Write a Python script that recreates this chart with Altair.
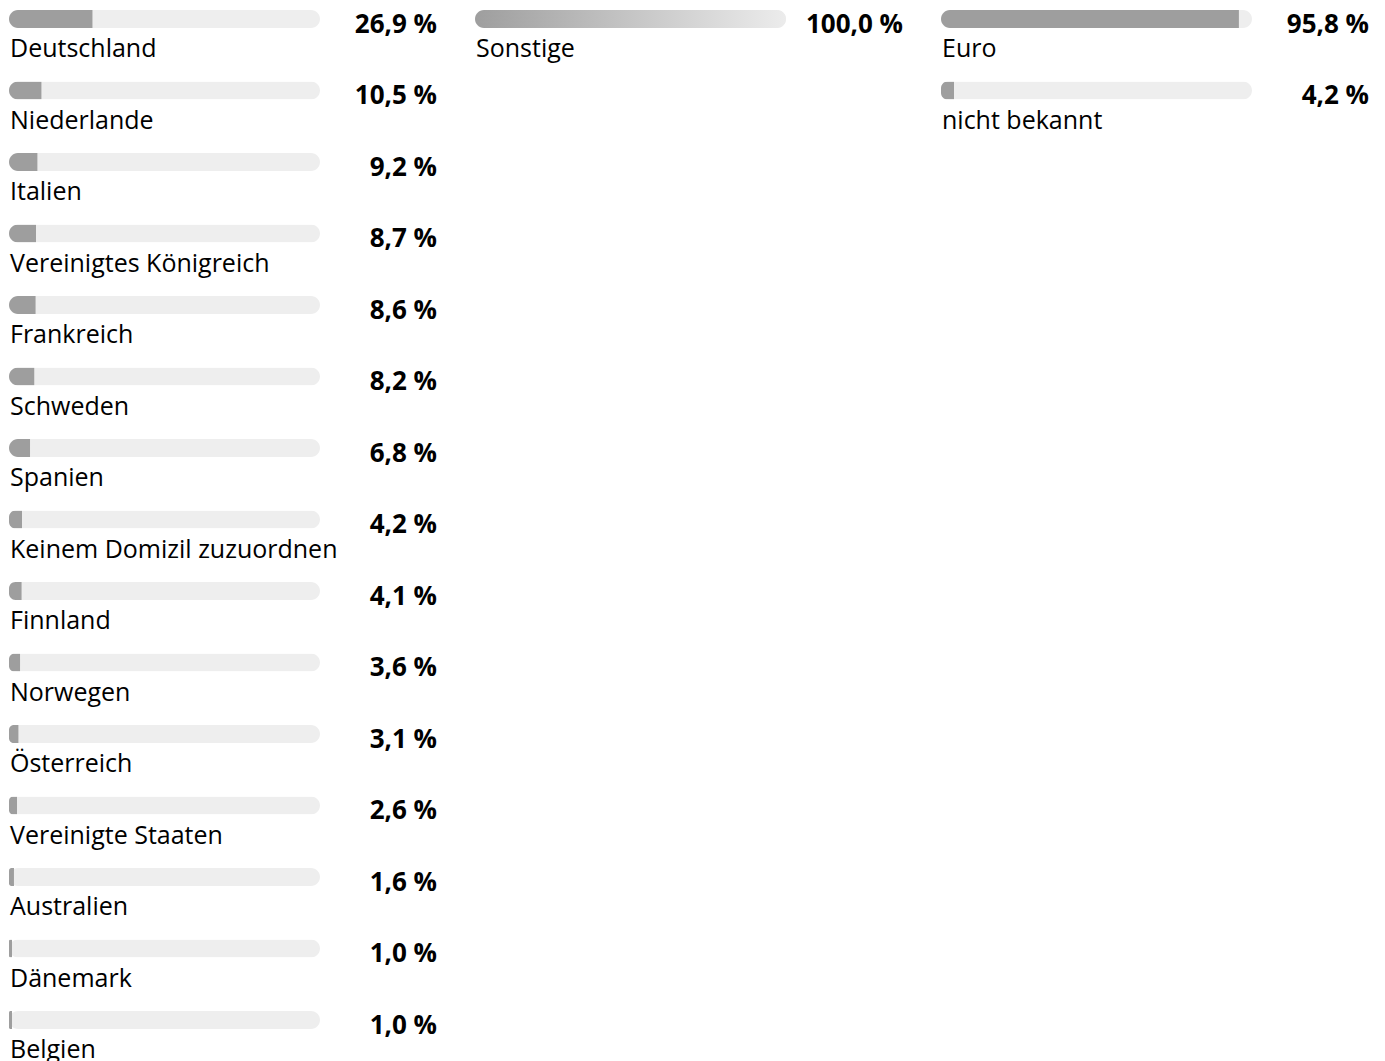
import altair as alt
import pandas as pd

countries = ["Deutschland", "Niederlande", "Italien", "Vereinigtes Königreich", "Frankreich",
             "Schweden", "Spanien", "Keinem Domizil zuzuordnen", "Finnland", "Norwegen",
             "Österreich", "Vereinigte Staaten", "Australien", "Dänemark", "Belgien"]
country_values = [26.9, 10.5, 9.2, 8.7, 8.6, 8.2, 6.8, 4.2, 4.1, 3.6, 3.1, 2.6, 1.6, 1.0, 1.0]

sector_names = ["Sonstige"]
sector_values = [100.0]

currency_names = ["Euro", "nicht bekannt"]
currency_values = [95.8, 4.2]

FONT = "Open Sans"
TRACK = "#eeeeee"
FILL = "#9e9e9e"


def make_df(names, values):
    return pd.DataFrame({
        "row": list(range(len(names))),
        "name": names,
        "value": values,
        "full": [100.0] * len(names),
        "label": [f"{v:.1f}".replace(".", ",") + " %" for v in values],
    })


def panel(names, values, width, gradient=False):
    df = make_df(names, values)
    xs = alt.Scale(domain=[0, 100], range=[1, 312])
    ys = alt.Scale(paddingInner=0, paddingOuter=0)
    y = alt.Y("row:O", axis=None, scale=ys)
    base = alt.Chart(df)
    track = base.mark_bar(size=18, cornerRadius=9, color=TRACK, yOffset=-24.75).encode(
        x=alt.X("full:Q", scale=xs, axis=None), y=y)
    if gradient:
        fill = base.mark_bar(
            size=18, cornerRadius=9, yOffset=-24.75,
            color=alt.LinearGradient(
                gradient="linear",
                stops=[alt.GradientStop(color="#9e9e9e", offset=0),
                       alt.GradientStop(color="#ececec", offset=1)],
                x1=0, x2=1, y1=0, y2=0)
        ).encode(x=alt.X("value:Q", scale=xs, axis=None), y=y)
    else:
        fill = base.mark_bar(size=18, cornerRadiusTopLeft=9, cornerRadiusBottomLeft=9,
                             color=FILL, yOffset=-24.75).encode(
            x=alt.X("value:Q", scale=xs, axis=None), y=y)
    value_text = base.mark_text(align="right", baseline="alphabetic", font=FONT,
                                fontSize=26, fontWeight="bold", color="#000000",
                                yOffset=-11).encode(
        x=alt.value(429), y=y, text="label:N")
    name_text = base.mark_text(align="left", baseline="alphabetic", font=FONT,
                               fontSize=25, color="#000000", yOffset=13.25).encode(
        x=alt.value(2), y=y, text="name:N")
    return alt.layer(track, fill, value_text, name_text).properties(
        width=width, height=alt.Step(71.5))


chart = alt.hconcat(
    panel(countries, country_values, 446),
    panel(sector_names, sector_values, 446, gradient=True),
    panel(currency_names, currency_values, 432),
    spacing=20,
    bounds="flush",
).properties(
    padding=0,
).configure_view(stroke=None)

chart.save("out.html", embed_options={"renderer": "svg", "actions": False})
